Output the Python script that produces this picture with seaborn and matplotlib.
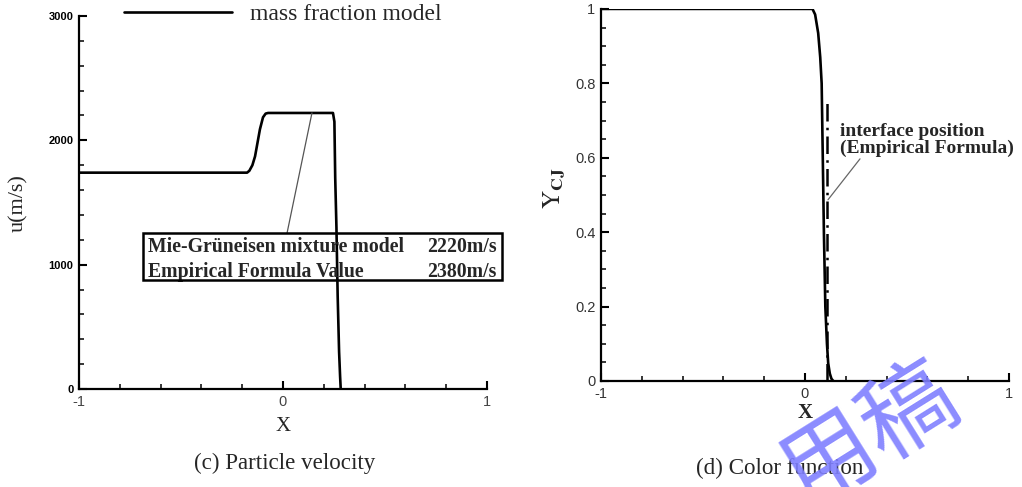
import matplotlib
matplotlib.use("Agg")
import matplotlib.pyplot as plt
import seaborn as sns
from matplotlib.patches import Rectangle
from matplotlib.ticker import MultipleLocator, FixedLocator

# Particle velocity profile, mass fraction model
vel_x = [-1.0, -0.176, -0.165, -0.150, -0.137, -0.125, -0.113, -0.098, -0.085,
         -0.073, 0.245, 0.252, 0.256, 0.262, 0.268, 0.275, 0.280, 0.283]
vel_u = [1740, 1740, 1755, 1800, 1871, 1980, 2089, 2185, 2215,
         2220, 2220, 2150, 1700, 1300, 750, 300, 100, 0]
vel_label = "mass fraction model"

# Colour function profile
cf_x = [-1.0, 0.037, 0.050, 0.065, 0.075, 0.082, 0.087, 0.093, 0.100,
        0.108, 0.114, 0.122, 0.130, 0.139]
cf_y = [1.0, 1.0, 0.985, 0.935, 0.87, 0.80, 0.62, 0.40, 0.20,
        0.10, 0.048, 0.02, 0.006, 0.0]

# Interface position from the empirical formula
interface_x = 0.107
interface_top = 0.76

# Velocity comparison table
mg_label, mg_value = "Mie-Grüneisen mixture model", "2220m/s"
emp_label, emp_value = "Empirical Formula Value", "2380m/s"

vel_xticks = [-1, 0, 1]
vel_yticks = [0, 1000, 2000, 3000]
cf_yticks = [0, 0.2, 0.4, 0.6, 0.8, 1]

sns.set_theme(style="ticks")
plt.rcParams.update({
    "font.family": ["Liberation Serif", "DejaVu Serif"],
    "mathtext.fontset": "stix",
    "axes.linewidth": 1.6,
    "axes.edgecolor": "black",
})

SERIF = "Liberation Serif"
SANS = "Liberation Sans"

fig = plt.figure(figsize=(10.22, 4.87), dpi=100)
ax1 = fig.add_axes([0.0773, 0.2012, 0.3992, 0.766])
ax2 = fig.add_axes([0.588, 0.2177, 0.3992, 0.764])


def style_axes(ax):
    for side in ("top", "right"):
        ax.spines[side].set_visible(False)
    ax.tick_params(which="major", direction="in", length=6, width=1.5,
                   colors="black", pad=4)
    ax.tick_params(which="minor", direction="in", length=3.5, width=1.1,
                   colors="black")
    ax.set_facecolor("white")


# ---- (c) particle velocity ----
sns.lineplot(x=vel_x, y=vel_u, ax=ax1, color="black", linewidth=1.9,
             sort=False, estimator=None, label=vel_label)
ax1.set_xlim(-1, 1)
ax1.set_ylim(0, 3000)
style_axes(ax1)
ax1.xaxis.set_major_locator(FixedLocator(vel_xticks))
ax1.xaxis.set_minor_locator(MultipleLocator(0.2))
ax1.yaxis.set_major_locator(FixedLocator(vel_yticks))
ax1.yaxis.set_minor_locator(MultipleLocator(200))
ax1.set_xticklabels([str(v) for v in vel_xticks], fontfamily=SANS,
                    fontsize=10.5, color="#444444")
ax1.set_yticklabels([str(v) for v in vel_yticks], fontfamily=SANS,
                    fontsize=8, fontweight="bold", color="black")
ax1.set_xlabel("X", fontfamily=SERIF, fontsize=15)
ax1.xaxis.set_label_coords(0.5, -0.075)
ax1.set_ylabel("u(m/s)", fontfamily=SERIF, fontsize=16)
ax1.yaxis.set_label_coords(-0.125, 0.499)

leg = ax1.legend(loc="center left", bbox_to_anchor=(0.11, 1.005),
                 frameon=False, handlelength=4.6, handletextpad=0.75,
                 borderpad=0, borderaxespad=0,
                 prop={"family": SERIF, "size": 17})

# comparison table box with its leader line
ax1.add_patch(Rectangle((-0.686, 877), 1.76, 378, fill=False,
                        edgecolor="black", linewidth=1.8, clip_on=False,
                        zorder=4))
ax1.annotate("", xy=(0.142, 2220), xytext=(0.02, 1255),
             arrowprops=dict(arrowstyle="-", color="#555555", lw=0.9,
                             shrinkA=0, shrinkB=0))
for yv, lab, val in ((1142, mg_label, mg_value), (941, emp_label, emp_value)):
    ax1.text(-0.662, yv, lab, fontfamily=SERIF, fontweight="bold",
             fontsize=14.2, ha="left", va="center", clip_on=False)
    ax1.text(1.049, yv, val, fontfamily=SERIF, fontweight="bold",
             fontsize=14.2, ha="right", va="center", clip_on=False)

# ---- (d) colour function ----
sns.lineplot(x=cf_x, y=cf_y, ax=ax2, color="black", linewidth=1.9,
             sort=False, estimator=None)
ax2.plot([interface_x, interface_x], [0, interface_top], color="black",
         linewidth=1.8, linestyle=(0, (7, 2.5, 1, 2.5)))
ax2.set_xlim(-1, 1)
ax2.set_ylim(0, 1)
style_axes(ax2)
ax2.xaxis.set_major_locator(FixedLocator(vel_xticks))
ax2.xaxis.set_minor_locator(MultipleLocator(0.2))
ax2.yaxis.set_major_locator(FixedLocator(cf_yticks))
ax2.yaxis.set_minor_locator(MultipleLocator(0.05))
ax2.set_xticklabels([str(v) for v in vel_xticks], fontfamily=SANS,
                    fontsize=10.5, color="#333333")
ax2.set_yticklabels([f"{v:g}" for v in cf_yticks], fontfamily=SANS,
                    fontsize=10.5, color="#333333")
ax2.set_xlabel("X", fontfamily=SERIF, fontsize=15, fontweight="bold")
ax2.xaxis.set_label_coords(0.5, -0.058)
ax2.set_ylabel(r"$\mathrm{Y}_{\mathbf{CJ}}$", fontsize=18)
ax2.yaxis.set_label_coords(-0.083, 0.519)

ax2.text(0.1716, 0.648, "interface position\n(Empirical Formula)",
         fontfamily=SERIF, fontweight="bold", fontsize=14, ha="left",
         va="center", linespacing=1.0)
ax2.annotate("", xy=(0.113, 0.487), xytext=(0.27, 0.597),
             arrowprops=dict(arrowstyle="-", color="#666666", lw=0.9,
                             shrinkA=0, shrinkB=0))

# captions
fig.text(285 / 1022, 1 - 463 / 487, "(c) Particle velocity",
         fontfamily=SERIF, fontsize=16.6, ha="center", va="center")
fig.text(780 / 1022, 1 - 468 / 487, "(d) Color function",
         fontfamily=SERIF, fontsize=16.6, ha="center", va="center")

# watermark
fig.text(0.93, 0.205, "用稿", fontfamily="Noto Sans CJK SC",
         fontweight="light", fontsize=68, color="#7f7fff", alpha=0.9,
         rotation=32, rotation_mode="anchor", ha="right", va="center",
         zorder=10)

fig.savefig("out.png", dpi=100, facecolor="white")
